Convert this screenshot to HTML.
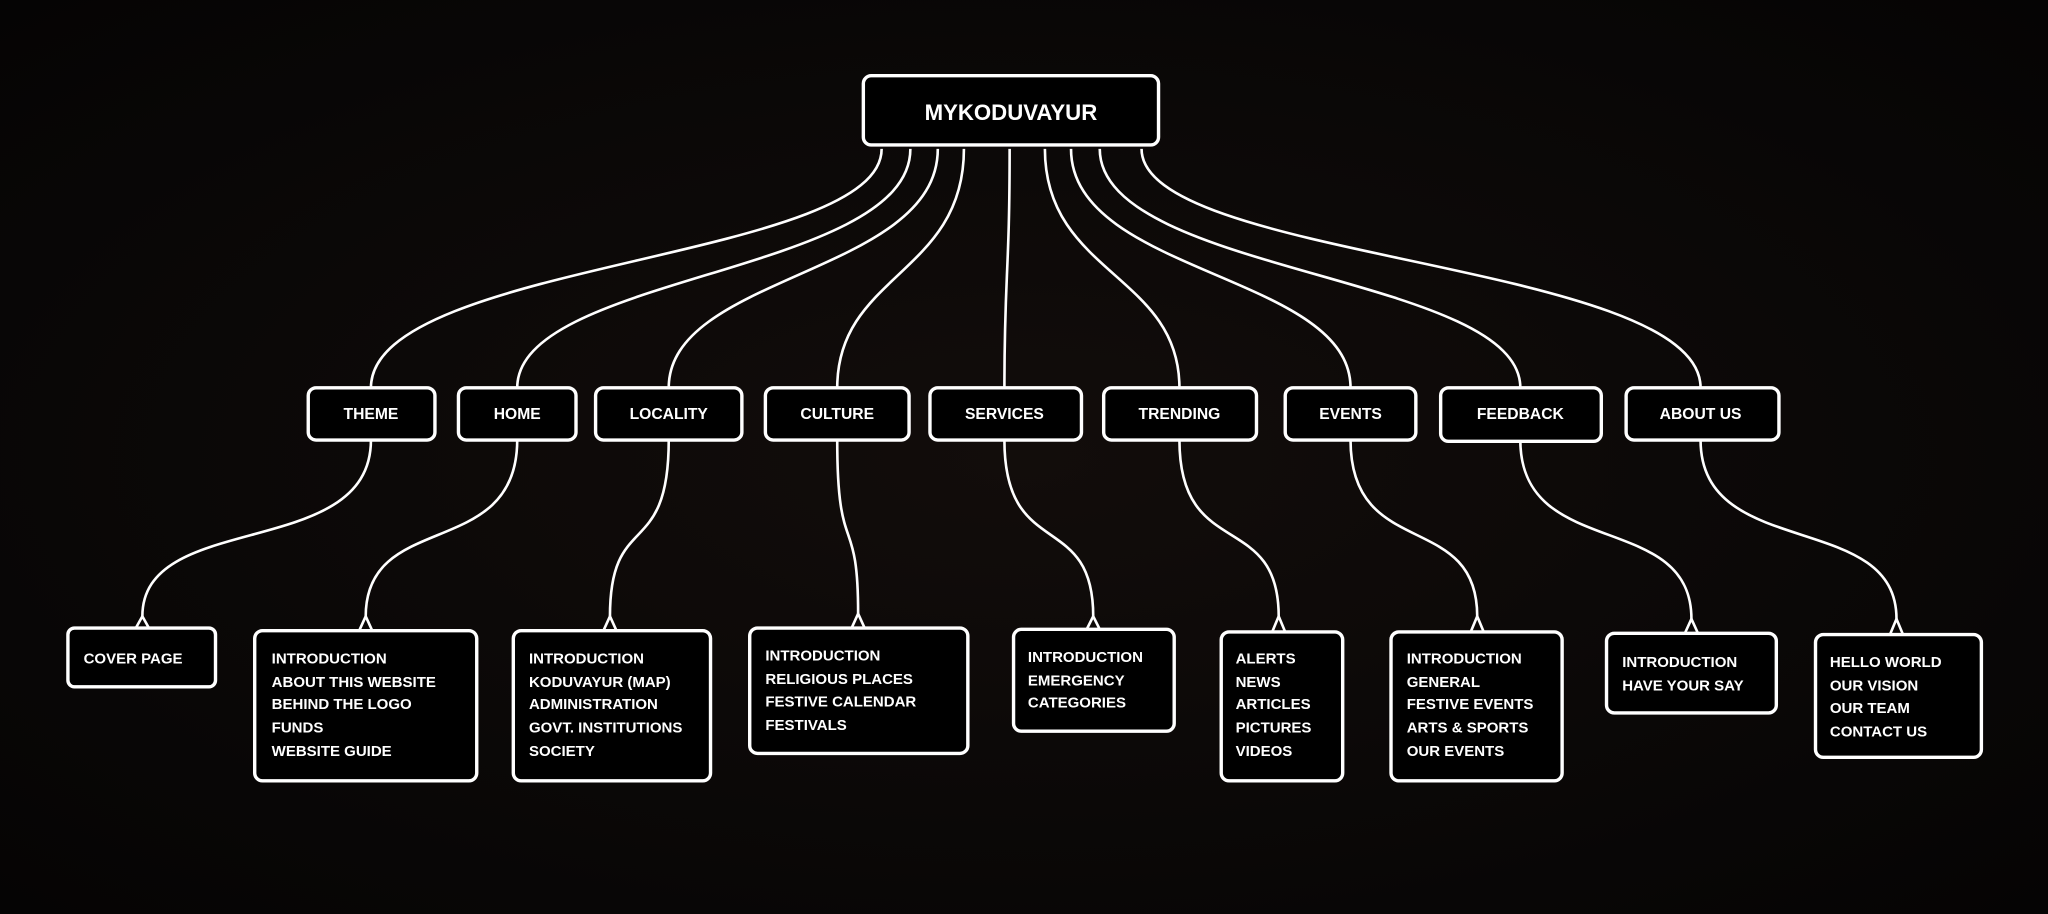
<!DOCTYPE html>
<html><head><meta charset="utf-8"><style>
html,body{margin:0;padding:0;background:#0a0706;}
svg{display:block}
text{font-family:"Liberation Sans",sans-serif;font-weight:bold;fill:#fff;}
</style></head><body>
<svg width="2048" height="914" viewBox="0 0 1568 700" preserveAspectRatio="none" xmlns="http://www.w3.org/2000/svg">
<defs><radialGradient id="bg" cx="50%" cy="50%" r="70%"><stop offset="0" stop-color="#120d0b"/><stop offset="1" stop-color="#050404"/></radialGradient></defs>
<rect width="1568" height="700" fill="url(#bg)"/>
<g fill="none" stroke="#fff" stroke-width="2">
<path d="M675,114 C675,200 284,200 284,297"/>
<path d="M697,114 C697,210 396,210 396,297"/>
<path d="M718,114 C718,210 512,210 512,297"/>
<path d="M738,114 C738,210 641,210 641,297"/>
<path d="M773,114 C773,210 769,210 769,297"/>
<path d="M800,114 C800,210 903,210 903,297"/>
<path d="M820,114 C820,210 1034,210 1034,297"/>
<path d="M842,114 C842,210 1164,210 1164,297"/>
<path d="M874,114 C874,200 1302,200 1302,297"/>
<path d="M284,337 C284,430 109,390 109,472"/>
<path d="M396,337 C396,430 280,390 280,472"/>
<path d="M512,337 C512,430 467,390 467,472"/>
<path d="M641,337 C641,430 657,390 657,470"/>
<path d="M769,337 C769,430 837,390 837,472"/>
<path d="M903,337 C903,430 979,390 979,472"/>
<path d="M1034,337 C1034,430 1131,390 1131,472"/>
<path d="M1164,337 C1164,430 1295,390 1295,474"/>
<path d="M1302,337 C1302,430 1452,390 1452,474"/>
</g>
<g fill="#000" stroke="#fff" stroke-width="2.6">
<rect x="661" y="58" width="226" height="53" rx="6"/>
<rect x="236" y="297" width="97" height="40" rx="6"/>
<rect x="351" y="297" width="90" height="40" rx="6"/>
<rect x="456" y="297" width="112" height="40" rx="6"/>
<rect x="586" y="297" width="110" height="40" rx="6"/>
<rect x="712" y="297" width="116" height="40" rx="6"/>
<rect x="845" y="297" width="117" height="40" rx="6"/>
<rect x="984" y="297" width="100" height="40" rx="6"/>
<rect x="1103" y="297" width="123" height="41" rx="6"/>
<rect x="1245" y="297" width="117" height="40" rx="6"/>
<rect x="52" y="481" width="113" height="45" rx="5"/>
<rect x="195" y="483" width="170" height="115" rx="6"/>
<rect x="393" y="483" width="151" height="115" rx="6"/>
<rect x="574" y="481" width="167" height="96" rx="6"/>
<rect x="776" y="482" width="123" height="78" rx="6"/>
<rect x="935" y="484" width="93" height="114" rx="6"/>
<rect x="1065" y="484" width="131" height="114" rx="6"/>
<rect x="1230" y="485" width="130" height="61" rx="6"/>
<rect x="1390" y="486" width="127" height="94" rx="6"/>
</g>
<g fill="none" stroke="#fff" stroke-width="2">
<path d="M104,481 L109,472 L114,481"/>
<path d="M275,483 L280,472 L285,483"/>
<path d="M462,483 L467,472 L472,483"/>
<path d="M652,481 L657,470 L662,481"/>
<path d="M832,482 L837,472 L842,482"/>
<path d="M974,484 L979,472 L984,484"/>
<path d="M1126,484 L1131,472 L1136,484"/>
<path d="M1290,485 L1295,474 L1300,485"/>
<path d="M1447,486 L1452,474 L1457,486"/>
</g>
<text x="774" y="92" font-size="17" text-anchor="middle">MYKODUVAYUR</text>
<g font-size="12" text-anchor="middle">
<text x="284" y="321">THEME</text>
<text x="396" y="321">HOME</text>
<text x="512" y="321">LOCALITY</text>
<text x="641" y="321">CULTURE</text>
<text x="769" y="321">SERVICES</text>
<text x="903" y="321">TRENDING</text>
<text x="1034" y="321">EVENTS</text>
<text x="1164" y="321">FEEDBACK</text>
<text x="1302" y="321">ABOUT US</text>
</g>
<g font-size="11.5">
<text x="64" y="508">COVER PAGE</text>
<text x="208" y="508">INTRODUCTION</text><text x="208" y="526">ABOUT THIS WEBSITE</text><text x="208" y="543">BEHIND THE LOGO</text><text x="208" y="561">FUNDS</text><text x="208" y="579">WEBSITE GUIDE</text>
<text x="405" y="508">INTRODUCTION</text><text x="405" y="526">KODUVAYUR (MAP)</text><text x="405" y="543">ADMINISTRATION</text><text x="405" y="561">GOVT. INSTITUTIONS</text><text x="405" y="579">SOCIETY</text>
<text x="586" y="506">INTRODUCTION</text><text x="586" y="524">RELIGIOUS PLACES</text><text x="586" y="541">FESTIVE CALENDAR</text><text x="586" y="559">FESTIVALS</text>
<text x="787" y="507">INTRODUCTION</text><text x="787" y="525">EMERGENCY</text><text x="787" y="542">CATEGORIES</text>
<text x="946" y="508">ALERTS</text><text x="946" y="526">NEWS</text><text x="946" y="543">ARTICLES</text><text x="946" y="561">PICTURES</text><text x="946" y="579">VIDEOS</text>
<text x="1077" y="508">INTRODUCTION</text><text x="1077" y="526">GENERAL</text><text x="1077" y="543">FESTIVE EVENTS</text><text x="1077" y="561">ARTS &amp; SPORTS</text><text x="1077" y="579">OUR EVENTS</text>
<text x="1242" y="511">INTRODUCTION</text><text x="1242" y="529">HAVE YOUR SAY</text>
<text x="1401" y="511">HELLO WORLD</text><text x="1401" y="529">OUR VISION</text><text x="1401" y="546">OUR TEAM</text><text x="1401" y="564">CONTACT US</text>
</g>
</svg>
</body></html>
